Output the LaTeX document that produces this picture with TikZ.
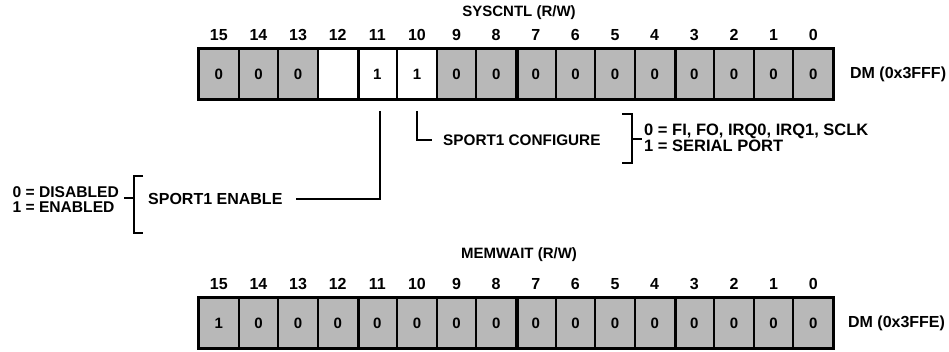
\documentclass[tikz,border=0pt]{standalone}
\usepackage{fontspec}
\setmainfont{Liberation Sans}
\usetikzlibrary{calc}
\definecolor{cellgray}{gray}{0.72}
\begin{document}
\begin{tikzpicture}[x=1pt,y=-1pt,
  every node/.style={font=\bfseries\fontsize{16}{16}\selectfont},
  cell/.style={draw, line width=1.8pt, minimum width=39.625pt, minimum height=50pt, inner sep=0pt,
    font=\bfseries\fontsize{15}{15}\selectfont},
  grey/.style={cell, fill=cellgray},
  blank/.style={cell, fill=white},
  sep/.style={line width=3.2pt},
  frame/.style={line width=2.6pt},
  conn/.style={line width=2pt},
  txt/.style={inner sep=0pt, anchor=west},
  title/.style={font=\bfseries\fontsize{15}{15}\selectfont},
]
\useasboundingbox (0,0) rectangle (949,352);

% SYSCNTL register
\foreach \b/\v/\s [count=\i from 0] in {15/0/grey,14/0/grey,13/0/grey,12//blank,11/1/blank,10/1/blank,9/0/grey,8/0/grey,7/0/grey,6/0/grey,5/0/grey,4/0/grey,3/0/grey,2/0/grey,1/0/grey,0/0/grey} {
  \node[\s] (s\b) at ({199+39.625*(\i+0.5)},74) {\v};
  \node (sn\b) at ({199+39.625*(\i+0.5)},35) {\b};
}
\foreach \n in {12,8,4} \draw[sep] (s\n.north east) -- (s\n.south east);
\draw[frame] (s15.north west) rectangle (s0.south east);
\node[title] (systitle) at (519,13) {SYSCNTL (R/W)};
\node[txt] (sysaddr) at ([xshift=16pt]s0.east) {DM (0x3FFF)};

% MEMWAIT register
\foreach \b/\v [count=\i from 0] in {15/1,14/0,13/0,12/0,11/0,10/0,9/0,8/0,7/0,6/0,5/0,4/0,3/0,2/0,1/0,0/0} {
  \node[grey] (m\b) at ({199+39.625*(\i+0.5)},323) {\v};
  \node (mn\b) at ({199+39.625*(\i+0.5)},284) {\b};
}
\foreach \n in {12,8,4} \draw[sep] (m\n.north east) -- (m\n.south east);
\draw[frame] (m15.north west) rectangle (m0.south east);
\node[title] (memtitle) at (519,255) {MEMWAIT (R/W)};
\node[txt] (memaddr) at ([xshift=14pt]m0.east) {DM (0x3FFE)};

% SPORT1 ENABLE (bit 11)
\node[txt] (enable) at (148,199) {SPORT1 ENABLE};
\coordinate (t11) at ([xshift=3pt,yshift=-11pt]s11.south);
\draw[conn] (t11) |- ([xshift=13pt]enable.east);
\draw[conn] (143,176) -- (134,176) -- (134,233) -- (143,233);
\draw[conn] (134,198) -- (124,198);
\node[inner sep=0pt, anchor=east, align=left,
  font=\bfseries\fontsize{15.6}{15}\selectfont] (enopt) at (119,199.5) {0 = DISABLED\\1 = ENABLED};

% SPORT1 CONFIGURE (bit 10)
\node[txt, font=\bfseries\fontsize{15.3}{15}\selectfont] (config) at (443,140) {SPORT1 CONFIGURE};
\coordinate (t10) at ([yshift=-11pt]s10.south);
\draw[conn] (t10) |- ([xshift=-11pt]config.west);
\draw[conn] (622,114) -- (632,114) -- (632,163) -- (622,163);
\draw[conn] (632,139) -- (642,139);
\node[inner sep=0pt, anchor=west, align=left,
  font=\bfseries\fontsize{16.5}{12}\selectfont] (cfgopt) at (644,138) {0 = FI, FO, IRQ0, IRQ1, SCLK\\1 = SERIAL PORT};
\end{tikzpicture}
\end{document}
